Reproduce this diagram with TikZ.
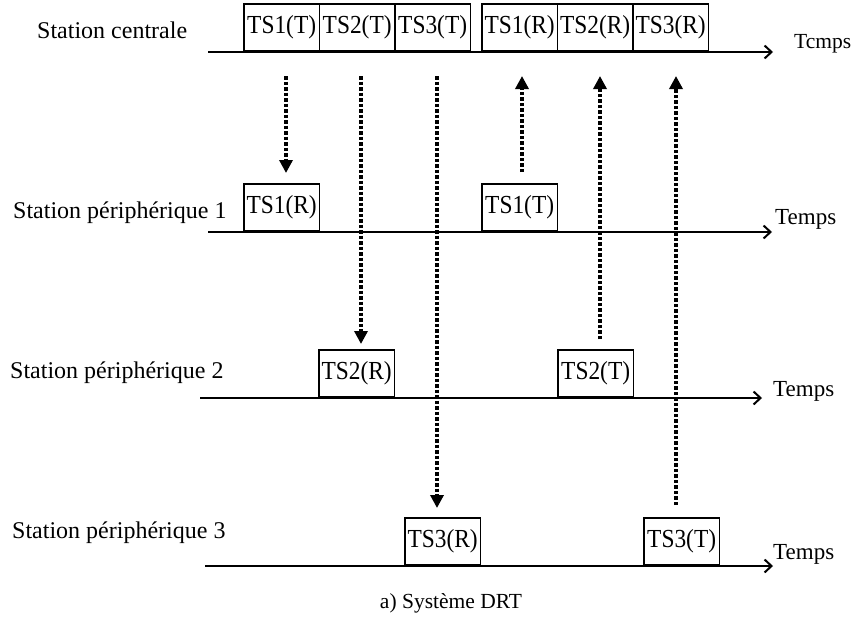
\documentclass[tikz,border=0pt]{standalone}
\usepackage{fontspec}
\setmainfont{Liberation Serif}
\newfontfamily\slotfamily[FakeStretch=0.9]{Liberation Serif}
\usetikzlibrary{arrows.meta}
\begin{document}
\begin{tikzpicture}[x=1pt,y=-1pt,
  slot/.style={draw,line width=1.8pt,minimum width=75.5pt,minimum height=47pt,inner sep=0pt,anchor=south west,font=\slotfamily\fontsize{26}{30}\selectfont},
  axis/.style={line width=2pt,-{Straight Barb[length=7pt,width=13pt,line width=2pt]}},
  msg/.style={line width=3.8pt,dash pattern=on 3.5pt off 2pt,-{Triangle[length=13pt,width=13pt]}},
  lbl/.style={anchor=west,inner sep=0pt,font=\fontsize{24}{28}\selectfont},
  tlbl/.style={anchor=west,inner sep=0pt,font=\fontsize{23}{27}\selectfont}]
\useasboundingbox (0,0) rectangle (856,635);
% labels
\node[lbl] (l0) at (37,30) {Station centrale};
\node[lbl] (l1) at (13,213) {Station périphérique 1};
\node[lbl] (l2) at (10,373) {Station périphérique 2};
\node[lbl] (l3) at (12,533) {Station périphérique 3};
% axes
\coordinate (a0s) at (208,52); \coordinate (a0e) at (773,52);
\coordinate (a1s) at (208,232); \coordinate (a1e) at (772,232);
\coordinate (a2s) at (200,398); \coordinate (a2e) at (762,398);
\coordinate (a3s) at (205,566); \coordinate (a3e) at (773,566);
\draw[axis] (a0s) -- (a0e);
\draw[axis] (a1s) -- (a1e);
\draw[axis] (a2s) -- (a2e);
\draw[axis] (a3s) -- (a3e);
\node[tlbl,font=\fontsize{21.5}{25}\selectfont] (t0) at (794,44) {Tcmps};
\node[tlbl] (t1) at (775,219) {Temps};
\node[tlbl] (t2) at (773,391) {Temps};
\node[tlbl] (t3) at (773,554) {Temps};
% central slots
\node[slot] (c1t) at (243,52) {TS1(T)};
\node[slot] (c2t) at (318.5,52) {TS2(T)};
\node[slot] (c3t) at (394,52) {TS3(T)};
\node[slot] (c1r) at (481,52) {TS1(R)};
\node[slot] (c2r) at (556.5,52) {TS2(R)};
\node[slot] (c3r) at (632,52) {TS3(R)};
% peripheral slots
\node[slot] (p1r) at (243,232) {TS1(R)};
\node[slot] (p1t) at (481,232) {TS1(T)};
\node[slot] (p2r) at (318,398) {TS2(R)};
\node[slot] (p2t) at (557,398) {TS2(T)};
\node[slot] (p3r) at (404,566) {TS3(R)};
\node[slot] (p3t) at (643,566) {TS3(T)};
% message arrows
\coordinate (d1s) at (286,76); \coordinate (d1e) at (286,173);
\coordinate (d2s) at (361,76); \coordinate (d2e) at (361,344);
\coordinate (d3s) at (437,76); \coordinate (d3e) at (437,508);
\coordinate (u1s) at (522,172); \coordinate (u1e) at (522,76);
\coordinate (u2s) at (600,339); \coordinate (u2e) at (600,76);
\coordinate (u3s) at (676,505); \coordinate (u3e) at (676,76);
\draw[msg] (d1s) -- (d1e);
\draw[msg] (d2s) -- (d2e);
\draw[msg] (d3s) -- (d3e);
\draw[msg] (u1s) -- (u1e);
\draw[msg] (u2s) -- (u2e);
\draw[msg] (u3s) -- (u3e);
% caption
\node[font=\fontsize{21.5}{25}\selectfont,inner sep=0pt] (cap) at (451,603) {a) Système DRT};
\end{tikzpicture}
\end{document}
